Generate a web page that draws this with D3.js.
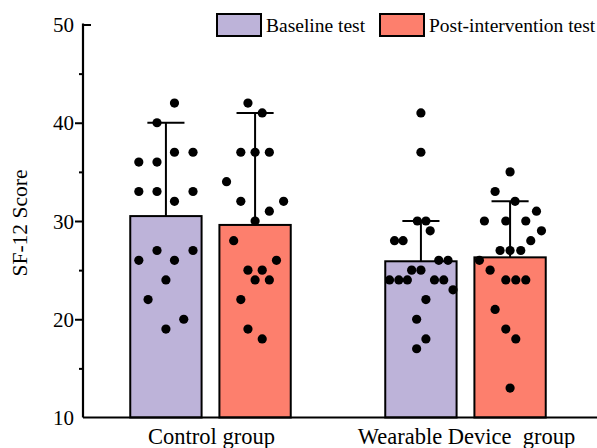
<!DOCTYPE html>
<html>
<head>
<meta charset="utf-8">
<script src="https://cdn.jsdelivr.net/npm/d3@7"></script>
<style>
  html, body { margin: 0; padding: 0; background: #fff; }
  svg { display: block; }
  text { font-family: "Liberation Serif", "Times New Roman", serif; fill: #000; }
</style>
</head>
<body>
<svg id="chart" width="597" height="448"></svg>
<script>
// ---------- data ----------
const groups = ["Control group", "Wearable Device  group"];
const series = ["Baseline test", "Post-intervention test"];
const seriesColors = ["#BDB3D9", "#FD7F6D"];
const baselineMeans = [30.5, 25.9];
const postMeans = [29.6, 26.3];
const baselineSD = [9.5, 4.1];
const postSD = [11.4, 5.7];
const yTicks = [10, 20, 30, 40, 50];
const yMinorTicks = [15, 25, 35, 45];
// individual points: [score, horizontal jitter as fraction of bar width]
const controlBaselinePts = [[42,0.12],[40,-0.125],[37,0.12],[37,0.38],[36,-0.38],[36,-0.125],[33,-0.38],[33,-0.125],[33,0.38],[32,0.12],[27,-0.125],[27,0.38],[26,-0.38],[26,0.12],[24,0],[22,-0.25],[20,0.25],[19,0]];
const controlPostPts = [[42,-0.1],[41,0.1],[37,-0.2],[37,0],[37,0.2],[34,-0.4],[32,-0.2],[32,0.4],[31,0.2],[30,0],[28,-0.3],[26,0.3],[25,-0.1],[25,0.1],[24,0],[24,0.2],[22,-0.2],[19,-0.1],[18,0.1]];
const wearBaselinePts = [[41,0],[37,0],[30,-0.05],[30,0.07],[29,0.13],[28,-0.37],[28,-0.25],[26,0.25],[26,0.38],[25,-0.13],[25,0],[24,-0.44],[24,-0.31],[24,-0.19],[24,0.19],[24,0.32],[23,0.45],[22,0.07],[20,-0.06],[18,0.07],[17,-0.06]];
const wearPostPts = [[35,0],[33,-0.21],[32,0.07],[31,0.37],[30,-0.36],[30,-0.06],[30,0.22],[29,0.44],[28,0.29],[27,-0.14],[27,0],[27,0.15],[26,-0.43],[25,-0.28],[24,-0.06],[24,0.08],[24,0.22],[21,-0.21],[19,-0.06],[18,0.08],[13,0]];

// ---------- build table ----------
const table = [];
groups.forEach((g, gi) => {
  table.push({group: g, series: series[0], mean: baselineMeans[gi], sd: baselineSD[gi], pts: gi === 0 ? controlBaselinePts : wearBaselinePts});
  table.push({group: g, series: series[1], mean: postMeans[gi], sd: postSD[gi], pts: gi === 0 ? controlPostPts : wearPostPts});
});

// ---------- layout ----------
const svg = d3.select("#chart");
const axisX = 83, plotRight = 597;
const y = d3.scaleLinear().domain([10, 50]).range([417.5, 24.5]);
const x0 = d3.scaleBand().domain(groups).range([axisX, 593]).padding(0);
const x1 = d3.scaleBand().domain(series).range([0, x0.bandwidth()]).paddingInner(0.2).paddingOuter(0.53);
const color = d3.scaleOrdinal().domain(series).range(seriesColors);

const barX = d => x0(d.group) + x1(d.series);
const barC = d => barX(d) + x1.bandwidth() / 2;

// bars
svg.append("g").selectAll("rect").data(table).join("rect")
  .attr("x", d => barX(d))
  .attr("y", d => y(d.mean))
  .attr("width", x1.bandwidth())
  .attr("height", d => y(10) - y(d.mean))
  .attr("fill", d => color(d.series))
  .attr("stroke", "#000")
  .attr("stroke-width", 2);

// error bars (upper only)
const eb = svg.append("g").attr("stroke", "#000").attr("stroke-width", 2);
eb.selectAll("line.v").data(table).join("line").attr("class", "v")
  .attr("x1", barC).attr("x2", barC)
  .attr("y1", d => y(d.mean)).attr("y2", d => y(d.mean + d.sd));
eb.selectAll("line.c").data(table).join("line").attr("class", "c")
  .attr("x1", d => barC(d) - x1.bandwidth() * 0.26)
  .attr("x2", d => barC(d) + x1.bandwidth() * 0.26)
  .attr("y1", d => y(d.mean + d.sd)).attr("y2", d => y(d.mean + d.sd));

// points
const pts = table.flatMap(d => d.pts.map(p => ({d, v: p[0], j: p[1]})));
svg.append("g").selectAll("circle").data(pts).join("circle")
  .attr("cx", p => barC(p.d) + p.j * x1.bandwidth())
  .attr("cy", p => y(p.v))
  .attr("r", 4.6)
  .attr("fill", "#000");

// x axis line
svg.append("line").attr("x1", axisX).attr("x2", plotRight)
  .attr("y1", y(10)).attr("y2", y(10)).attr("stroke", "#000").attr("stroke-width", 2.2);

// y axis
const yAxisG = svg.append("g").attr("transform", `translate(${axisX},0)`)
  .call(d3.axisLeft(y).tickValues(yTicks).tickSize(8).tickPadding(1));
yAxisG.select(".domain").remove();
yAxisG.selectAll(".tick line").attr("stroke", "#000").attr("stroke-width", 2)
  .attr("x2", v => v === 50 ? 8 : (v === 10 ? 0 : -8));
yAxisG.selectAll(".tick text").attr("font-family", "Liberation Serif").attr("font-size", 21).attr("fill", "#000")
  .attr("dy", "0.34em");
const yMinorG = svg.append("g").attr("transform", `translate(${axisX},0)`)
  .call(d3.axisLeft(y).tickValues(yMinorTicks).tickSize(4).tickFormat(""));
yMinorG.select(".domain").remove();
yMinorG.selectAll(".tick line").attr("stroke", "#000").attr("stroke-width", 2);
svg.append("line").attr("x1", axisX).attr("x2", axisX)
  .attr("y1", y(50) - 1).attr("y2", y(10)).attr("stroke", "#000").attr("stroke-width", 2.2);

// y label
svg.append("text")
  .attr("transform", `translate(27,${(y(10) + y(50)) / 2 + 2}) rotate(-90)`)
  .attr("text-anchor", "middle")
  .attr("font-size", 21.5)
  .text("SF-12 Score");

// x labels
svg.append("g").selectAll("text").data(groups).join("text")
  .attr("x", g => x0(g) + x0.bandwidth() / 2 + 1)
  .attr("y", 443.5)
  .attr("text-anchor", "middle")
  .attr("font-size", 22.5)
  .style("white-space", "pre")
  .text(g => g);

// legend
const legendX = [217, 380];
const leg = svg.append("g").selectAll("g").data(series).join("g")
  .attr("transform", (s, i) => `translate(${legendX[i]},14)`);
leg.append("rect").attr("width", 44).attr("height", 22)
  .attr("fill", s => color(s)).attr("stroke", "#000").attr("stroke-width", 2);
leg.append("text").attr("x", 49).attr("y", 18).attr("font-size", 19.5).text(s => s);
</script>
</body>
</html>
